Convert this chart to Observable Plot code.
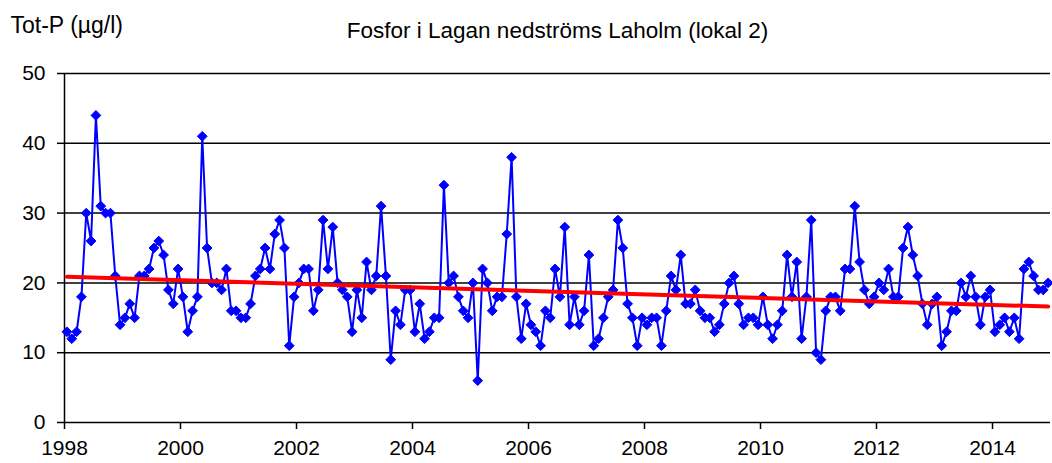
<!DOCTYPE html>
<html>
<head>
<meta charset="utf-8">
<script src="https://cdn.jsdelivr.net/npm/d3@7"></script>
<script src="https://cdn.jsdelivr.net/npm/@observablehq/plot@0.6"></script>
<style>
  html, body { margin: 0; padding: 0; background: #fff; }
  #chart { width: 1052px; height: 463px; }
</style>
</head>
<body>
<div id="chart"></div>
<script>
// Monthly Tot-P values (µg/l), Jan 1998 – Dec 2014
const startYear = 1998;
const values = [
  13, 12, 13, 18, 30, 26, 44, 31, 30, 30, 21, 14,   // 1998
  15, 17, 15, 21, 21, 22, 25, 26, 24, 19, 17, 22,   // 1999
  18, 13, 16, 18, 41, 25, 20, 20, 19, 22, 16, 16,   // 2000
  15, 15, 17, 21, 22, 25, 22, 27, 29, 25, 11, 18,   // 2001
  20, 22, 22, 16, 19, 29, 22, 28, 20, 19, 18, 13,   // 2002
  19, 15, 23, 19, 21, 31, 21, 9, 16, 14, 19, 19,    // 2003
  13, 17, 12, 13, 15, 15, 34, 20, 21, 18, 16, 15,   // 2004
  20, 6, 22, 20, 16, 18, 18, 27, 38, 18, 12, 17,    // 2005
  14, 13, 11, 16, 15, 22, 18, 28, 14, 18, 14, 16,   // 2006
  24, 11, 12, 15, 18, 19, 29, 25, 17, 15, 11, 15,   // 2007
  14, 15, 15, 11, 16, 21, 19, 24, 17, 17, 19, 16,   // 2008
  15, 15, 13, 14, 17, 20, 21, 17, 14, 15, 15, 14,   // 2009
  18, 14, 12, 14, 16, 24, 18, 23, 12, 18, 29, 10,   // 2010
  9, 16, 18, 18, 16, 22, 22, 31, 23, 19, 17, 18,    // 2011
  20, 19, 22, 18, 18, 25, 28, 24, 21, 17, 14, 17,   // 2012
  18, 11, 13, 16, 16, 20, 18, 21, 18, 14, 18, 19,   // 2013
  13, 14, 15, 13, 15, 12, 22, 23, 21, 19, 19, 20    // 2014
];
const xTicks = [1998, 2000, 2002, 2004, 2006, 2008, 2010, 2012, 2014];
const yTicks = [0, 10, 20, 30, 40, 50];
const yLabel = "Tot-P (µg/l)";
const title = "Fosfor i Lagan nedströms Laholm (lokal 2)";

const data = values.map((v, i) => ({ t: startYear + (i + 0.5) / 12, v }));

const font = "'Liberation Sans', Arial, sans-serif";

const chart = Plot.plot({
  width: 1052,
  height: 463,
  marginLeft: 64,
  marginRight: 2,
  marginTop: 73,
  marginBottom: 41,
  style: { fontFamily: font, fontSize: "21px", color: "#000", background: "#fff" },
  x: { domain: [1998, 2015], label: null },
  y: { domain: [0, 50], label: null },
  marks: [
    Plot.gridY(yTicks.filter(d => d > 0), { stroke: "#000", strokeOpacity: 1, strokeWidth: 1.5 }),
    Plot.ruleY([0], { stroke: "#000", strokeWidth: 1.5 }),
    Plot.ruleX([1998], { stroke: "#000", strokeWidth: 1.5 }),
    Plot.axisX({ ticks: xTicks, tickFormat: d => `${d}`, tickSize: 7, tickPadding: 11, fontSize: 21, strokeWidth: 1.5 }),
    Plot.axisY({ ticks: yTicks, tickSize: 7, tickPadding: 12, fontSize: 21, strokeWidth: 1.5 }),
    Plot.line(data, { x: "t", y: "v", stroke: "#0000ff", strokeWidth: 2 }),
    Plot.dot(data, { x: "t", y: "v", symbol: "diamond2", fill: "#0000ff", stroke: "#0000ff", strokeWidth: 1, r: 4.4 }),
    Plot.linearRegressionY(data, { x: "t", y: "v", stroke: "#ff0000", strokeWidth: 4, ci: 0 }),
    Plot.text([yLabel], { frameAnchor: "top-left", textAnchor: "start", lineAnchor: "middle", dx: -54, dy: -48, fontSize: 23, fill: "#000" }),
    Plot.text([title], { frameAnchor: "top", lineAnchor: "middle", dy: -43, fontSize: 22.5, fill: "#000" })
  ]
});
document.getElementById("chart").appendChild(chart);
</script>
</body>
</html>
